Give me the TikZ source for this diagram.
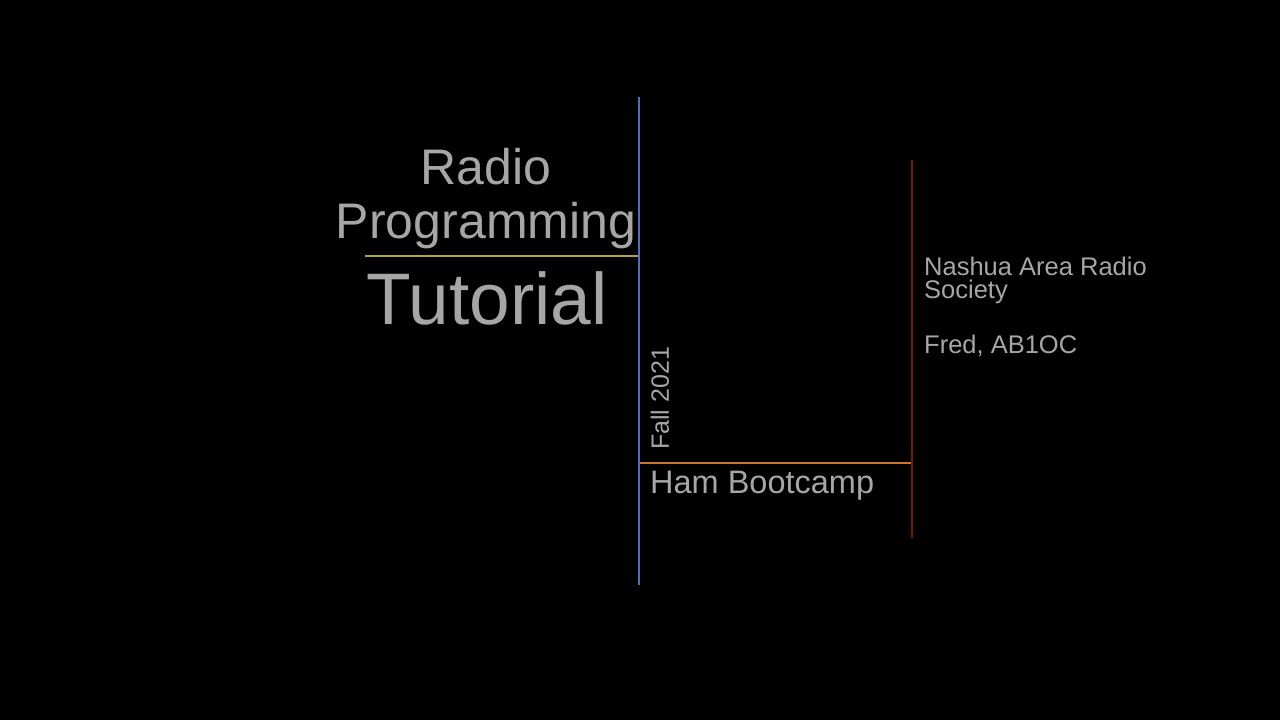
\documentclass[tikz,border=0pt]{standalone}
\usepackage{fontspec}
\setmainfont{Liberation Sans}
\begin{document}
\begin{tikzpicture}[x=1pt,y=-1pt,
  txt/.style={text=black!35!white,inner sep=0pt},
  ln/.style={line width=1.5pt}]
\fill[black] (0,0) rectangle (1280,720);
\useasboundingbox (0,0) rectangle (1280,720);
\coordinate (b1) at (639,97); \coordinate (b2) at (639,585);
\coordinate (y1) at (365,256); \coordinate (y2) at (638,256);
\coordinate (o1) at (640,463); \coordinate (o2) at (912,463);
\coordinate (r1) at (912,160); \coordinate (r2) at (912,538);
\draw[ln,color={rgb,255:red,80;green,110;blue,190}] (b1)--(b2);
\draw[ln,color={rgb,255:red,170;green,170;blue,60}] (y1)--(y2);
\draw[ln,color={rgb,255:red,200;green,120;blue,40}] (o1)--(o2);
\draw[ln,color={rgb,255:red,120;green,20;blue,10}] (r1)--(r2);
\node[txt,font=\fontsize{50}{56}\selectfont] (radio) at (486,167) {Radio};
\node[txt,font=\fontsize{50}{56}\selectfont] (prog) at (486,226) {Programming};
\node[txt,font=\fontsize{73}{80}\selectfont] (tut) at (487,298) {Tutorial};
\node[txt,font=\fontsize{32.5}{36}\selectfont,anchor=west] (ham) at (650,486) {Ham Bootcamp};
\node[txt,font=\fontsize{25}{28}\selectfont,rotate=90,anchor=west] (fall) at (660,450) {Fall 2021};
\node[txt,font=\fontsize{25.5}{27}\selectfont,anchor=west] (nars) at (924,266) {Nashua Area Radio};
\node[txt,font=\fontsize{25.5}{27}\selectfont,anchor=west] (soc) at (924,292) {Society};
\node[txt,font=\fontsize{25.5}{27}\selectfont,anchor=west] (fred) at (924,346) {Fred, AB1OC};
\end{tikzpicture}
\end{document}
